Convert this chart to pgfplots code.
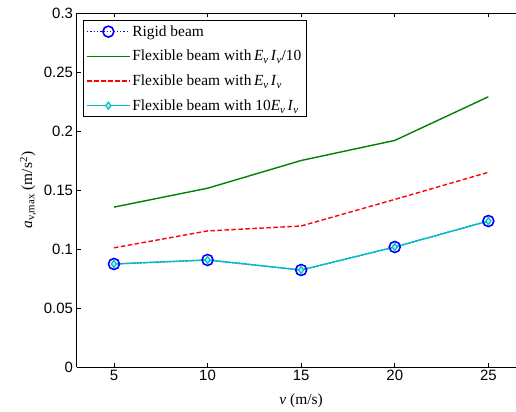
\documentclass[border=0pt]{standalone}
\usepackage{fontspec}
\setmainfont{Liberation Serif}
\setsansfont{Liberation Sans}
\usepackage{pgfplots}
\pgfplotsset{compat=1.18}
\definecolor{mgreen}{rgb}{0,0.5,0}
\definecolor{mcyan}{rgb}{0,0.75,0.75}
\newcommand{\EI}{\textit{E}\raisebox{-3bp}{\fontsize{11}{12}\selectfont\textit{v}}\,\textit{I}\raisebox{-3bp}{\fontsize{11}{12}\selectfont\textit{v}}}
\begin{document}
\begin{tikzpicture}
\useasboundingbox (0,0) rectangle (516bp,412bp);
\clip (0,0) rectangle (516bp,412bp);
\begin{axis}[
  at={(76.5bp,45bp)}, anchor=south west,
  scale only axis, width=449.3bp, height=354bp,
  xmin=3, xmax=27, ymin=0, ymax=0.3,
  xtick={5,10,15,20,25},
  ytick={0,0.05,0.1,0.15,0.2,0.25,0.3},
  yticklabels={0,0.05,0.1,0.15,0.2,0.25,0.3},
  axis x line=box, axis y line=left,
  y axis line style={-},
  axis line style={line width=0.9pt},
  tick align=inside, major tick length=4bp,
  tick style={black, line width=0.6pt},
  /pgf/number format/assume math mode=true,
  ticklabel style={font=\sffamily\fontsize{15}{17}\selectfont},
  xlabel={\textit{v} (m/s)},
  ylabel={\textit{a}\textsubscript{v,max} (m/s\textsuperscript{2})},
  label style={font=\fontsize{15.5}{17}\selectfont},
  xlabel style={at={(axis description cs:0.5,0)}, anchor=north, yshift=-23bp},
  ylabel style={at={(axis description cs:-0.108,0.5)}, anchor=center},
  legend style={at={(axis description cs:0.0145,0.98)}, anchor=north west,
    font=\fontsize{15.5}{17}\selectfont, draw=black, line width=0.9pt,
    legend cell align=left, row sep=8.5bp, inner sep=3bp},
  legend image post style={line width=1.3pt},
  legend image code/.code={\draw[#1] (0cm,0cm) -- (1.5cm,0cm); \draw[#1,solid] plot coordinates {(0.75cm,0cm)};},
  clip=false,
]
\addplot[blue, dotted, line width=1.3pt, mark=o, mark size=5.5bp, mark options={solid, line width=1.6pt}]
  coordinates {(5,0.0873) (10,0.0907) (15,0.0822) (20,0.1017) (25,0.1237)};
\addlegendentry{Rigid beam}
\addplot[mgreen, line width=1.4pt, mark=none]
  coordinates {(5,0.1355) (10,0.1515) (15,0.175) (20,0.192) (25,0.229)};
\addlegendentry{Flexible beam with\,\EI/10}
\addplot[red, dash pattern=on 4.5bp off 2.5bp, line width=1.4pt, mark=none]
  coordinates {(5,0.101) (10,0.1153) (15,0.1195) (20,0.142) (25,0.165)};
\addlegendentry{Flexible beam with\,\EI}
\addplot[mcyan, line width=1.4pt, mark=diamond*, mark size=3.5bp, mark options={fill=white!70!mcyan, line width=1.2pt}]
  coordinates {(5,0.0873) (10,0.0907) (15,0.0822) (20,0.1017) (25,0.1237)};
\addlegendentry{Flexible beam with 10\EI}
\end{axis}
\end{tikzpicture}
\end{document}
